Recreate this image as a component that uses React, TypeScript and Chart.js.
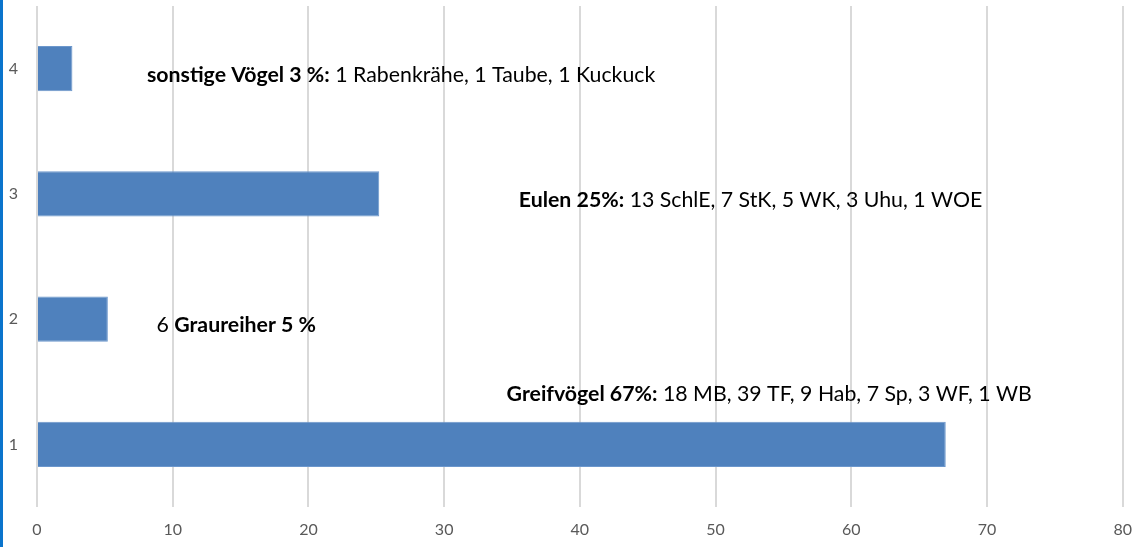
import React, { useEffect, useRef } from "react";
import { Chart, registerables } from "chart.js";

Chart.register(...registerables);

const categories = ["1", "2", "3", "4"];
const values = [66.96, 5.22, 25.22, 2.61];
const xTicks = [0, 10, 20, 30, 40, 50, 60, 70, 80];

// annotation texts, with their anchor in data units
const noteBold = ["Greifvögel 67%:", "", "Eulen 25%:", "sonstige Vögel 3 %:"];
const notePre = ["", "6 ", "", ""];
const noteRest = [" 18 MB, 39 TF, 9 Hab, 7 Sp, 3 WF, 1 WB", "", " 13 SchlE, 7 StK, 5 WK, 3 Uhu, 1 WOE", " 1 Rabenkrähe, 1 Taube, 1 Kuckuck"];
const noteBold2 = ["", "Graureiher 5 %", "", ""];
const noteX = [34.6, 8.8, 35.5, 8.1];
const noteY = [0.4, 0.95, 1.95, 2.95];

const FONT = "Lato, 'Open Sans', sans-serif";

const notesPlugin = {
  id: "notes",
  afterDatasetsDraw(chart: any) {
    const ctx = chart.ctx;
    const xs = chart.scales.x;
    const ys = chart.scales.y;
    ctx.save();
    ctx.fillStyle = "#000";
    ctx.textBaseline = "middle";
    ctx.textAlign = "left";
    for (let i = 0; i < noteX.length; i++) {
      let x = xs.getPixelForValue(noteX[i]);
      const y = ys.getPixelForValue(noteY[i]);
      const parts: [string, boolean][] = [
        [notePre[i], false],
        [noteBold[i], true],
        [noteBold2[i], true],
        [noteRest[i], false],
      ];
      for (const [t, b] of parts) {
        if (!t) continue;
        ctx.font = (b ? "bold " : "") + "21.3px " + FONT;
        ctx.fillText(t, x, y);
        x += ctx.measureText(t).width;
      }
    }
    ctx.restore();
  },
};

export default function App() {
  const ref = useRef<HTMLCanvasElement>(null);
  useEffect(() => {
    document.body.style.margin = "0";
    const chart = new Chart(ref.current!, {
      type: "bar",
      data: {
        labels: categories,
        datasets: [
          {
            data: values,
            backgroundColor: "#4F81BD",
            borderColor: "#6C97CC",
            borderWidth: 1,
            categoryPercentage: 1,
            barPercentage: 0.36,
          },
        ],
      },
      options: {
        indexAxis: "y",
        animation: false,
        responsive: false,
        layout: { padding: { top: 6, right: 20, left: 0, bottom: 0 } },
        plugins: { legend: { display: false }, tooltip: { enabled: false }, title: { display: false } },
        scales: {
          x: {
            min: 0,
            max: 80,
            afterBuildTicks: (s: any) => {
              s.ticks = xTicks.map((v) => ({ value: v }));
            },
            afterFit: (s: any) => {
              s.height = 40;
            },
            grid: { color: "#D9D9D9", lineWidth: 2, drawTicks: false },
            border: { display: false },
            ticks: { color: "#595959", font: { size: 16, family: FONT }, padding: 13 },
          },
          y: {
            reverse: true,
            afterFit: (s: any) => {
              s.width = 37;
              s.paddingTop = 0;
              s.paddingBottom = 0;
            },
            grid: { display: false, drawTicks: false },
            border: { display: false },
            ticks: { color: "#595959", font: { size: 16, family: FONT }, padding: 19 },
          },
        },
      },
      plugins: [notesPlugin],
    } as any);
    return () => chart.destroy();
  }, []);
  return (
    <div style={{ position: "relative", width: 1145, height: 547, background: "#fff" }}>
      <canvas ref={ref} width={1145} height={547} style={{ display: "block" }} />
      <div style={{ position: "absolute", left: 0, top: 0, width: 3, height: 547, background: "#0A74CC" }} />
    </div>
  );
}
